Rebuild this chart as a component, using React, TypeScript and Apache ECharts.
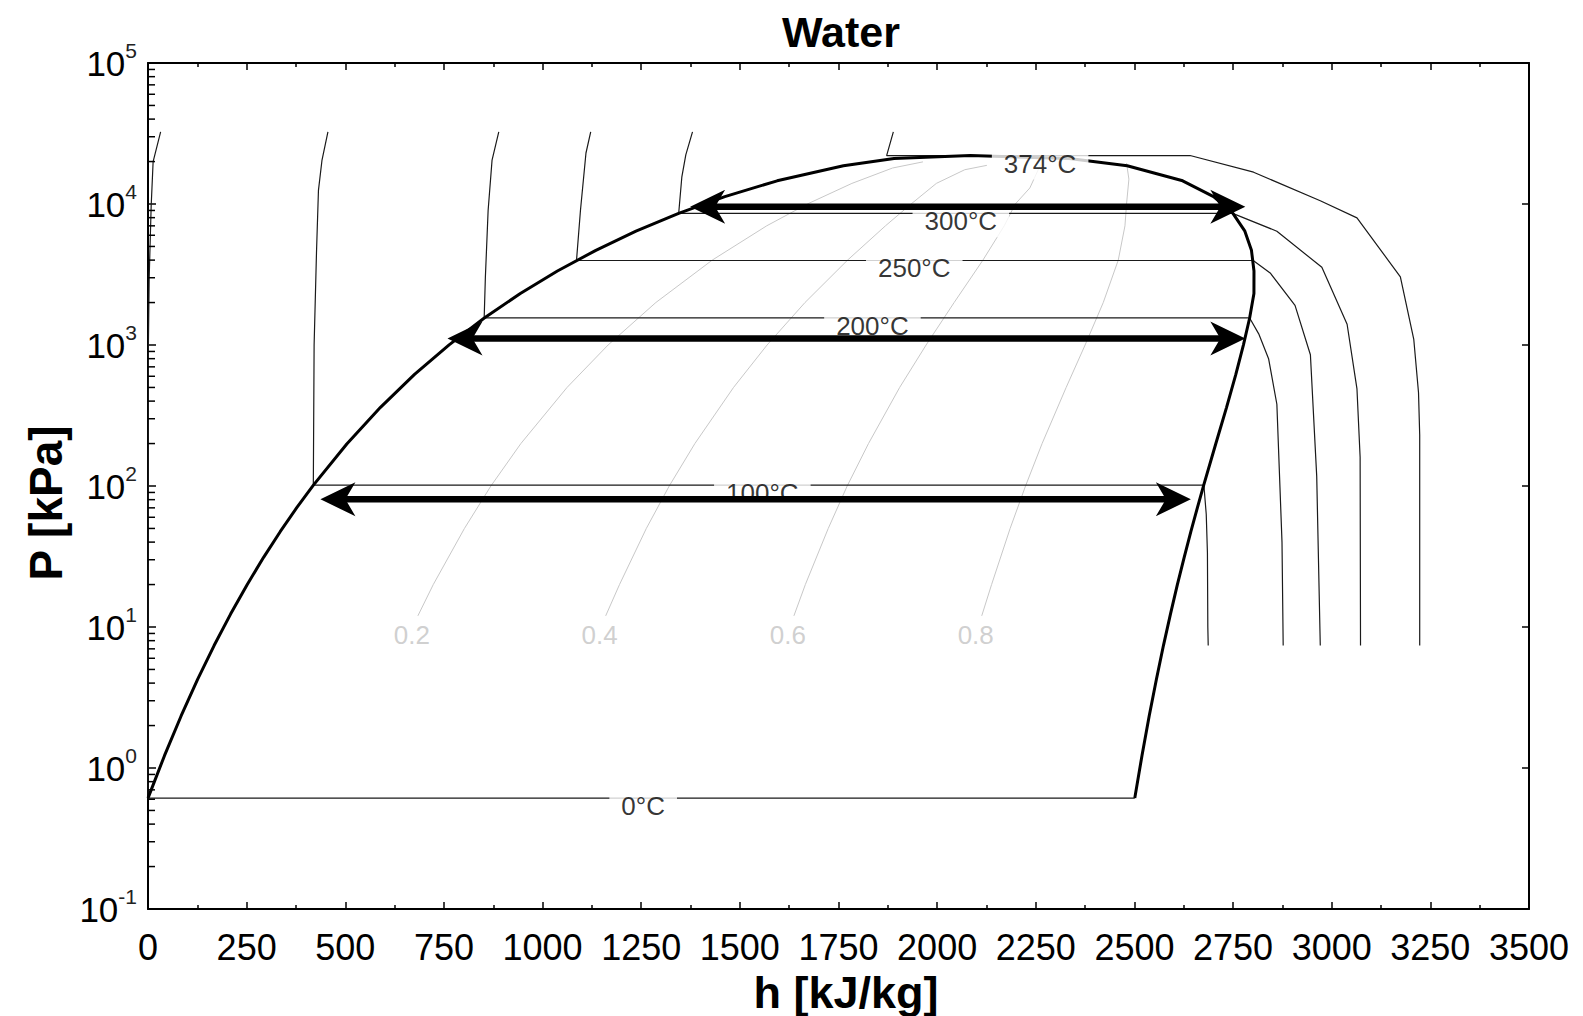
import React, { useEffect, useRef } from 'react';
import * as echarts from 'echarts';

const FONT = "'Liberation Sans', Arial, Helvetica, sans-serif";

// Axis ranges
const X_MIN = 0;
const X_MAX = 3500;
const X_INTERVAL = 250;
const Y_MIN = 0.1;
const Y_MAX = 100000;
const MINOR_MANTISSAS = [2, 3, 4, 5, 6, 7, 8, 9];
const DECADES = [0.1, 1, 10, 100, 1000, 10000];

// Saturation dome (h in kJ/kg, P in kPa)
const SAT_P = [0.6117, 1.228, 2.339, 4.247, 7.385, 12.35, 19.95, 31.2, 47.41, 70.18, 101.42, 198.67, 361.5, 618.2, 1002.8, 1554.9, 2319.6, 3346.9, 4692.3, 6416.6, 8587.9, 11284, 14601, 18666, 21044, 22064];
const SAT_LIQ_H = [0.0, 42.0, 83.9, 125.7, 167.5, 209.3, 251.2, 293.0, 335.0, 377.0, 419.2, 503.8, 589.2, 675.5, 763.1, 852.3, 943.6, 1037.6, 1135.0, 1236.7, 1344.8, 1462.0, 1594.5, 1762.5, 1890.7, 2084.3];
const SAT_VAP_H = [2500.9, 2519.2, 2537.4, 2555.6, 2573.5, 2591.3, 2608.8, 2626.1, 2643.0, 2659.6, 2675.6, 2706.0, 2733.5, 2757.0, 2776.3, 2792.0, 2802.9, 2803.0, 2796.6, 2779.9, 2749.6, 2700.6, 2622.2, 2481.6, 2334.5, 2084.3];

// Isotherms [h, P]
const ISO_0 = [[32, 32500], [13, 20000], [8, 9600], [3, 3000], [1, 1000], [0, 0.6117], [2501, 0.6117]];
const ISO_100 = [[456, 32500], [441, 20500], [432, 12500], [427, 4500], [421, 1000], [419, 101.4], [2676, 101.4], [2682, 63], [2685, 33.7], [2686, 10], [2687, 7.4]];
const ISO_200 = [[889, 32500], [872, 20500], [862, 9000], [855, 3000], [852, 1555], [2792, 1555], [2815, 1200], [2840, 800], [2861, 380], [2874, 40], [2877, 7.4]];
const ISO_250 = [[1122, 32500], [1110, 23000], [1096, 9000], [1086, 3976], [2801, 3976], [2844, 3245], [2907, 1912], [2946, 853], [2962, 117], [2971, 7.4]];
const ISO_300 = [[1380, 32500], [1363, 22300], [1353, 15600], [1345, 8588], [2749, 8588], [2861, 6410], [2975, 3556], [3039, 1403], [3064, 488], [3072, 160], [3073, 7.4]];
const ISO_374 = [[1889, 32500], [1872, 22064], [2641, 22064], [2802, 16810], [2971, 10540], [3064, 7970], [3174, 3045], [3208, 1094], [3220, 458], [3223, 231], [3223, 7.4]];
const ISOTHERMS = [ISO_0, ISO_100, ISO_200, ISO_250, ISO_300, ISO_374];

const TEMP_LABELS = ['374°C', '300°C', '250°C', '200°C', '100°C', '0°C'];
const TEMP_LABEL_H = [2261, 2060, 1942, 1836, 1557, 1255];
const TEMP_LABEL_P = [22064, 8588, 3976, 1555, 101.4, 0.6117];

// Quality lines [h, P], from the low-pressure end upwards
const Q_02 = [[684, 12], [723, 20], [802, 50], [869, 100], [945, 200], [1062, 500], [1166, 1000], [1287, 2000], [1430, 4000], [1568, 7000], [1671, 10000], [1784, 14000], [1887, 18000], [1964, 19900]];
const Q_04 = [[1160, 12], [1195, 20], [1263, 50], [1321, 100], [1386, 200], [1484, 500], [1569, 1000], [1665, 2000], [1773, 4000], [1869, 7000], [1934, 10000], [1998, 14000], [2070, 17500], [2126, 18800]];
const Q_06 = [[1637, 12], [1666, 20], [1724, 50], [1772, 100], [1826, 200], [1905, 500], [1972, 1000], [2043, 2000], [2116, 4000], [2170, 7000], [2198, 10000], [2235, 13000], [2262, 19000]];
const Q_08 = [[2113, 12], [2138, 20], [2185, 50], [2224, 100], [2266, 200], [2327, 500], [2375, 1000], [2421, 2000], [2459, 4000], [2476, 7000], [2480, 10000], [2486, 15000], [2480, 19500]];
const QUALITY_LINES = [Q_02, Q_04, Q_06, Q_08];
const QUALITY_LABELS = ['0.2', '0.4', '0.6', '0.8'];

// Double-headed process arrows: tip positions
const ARROW_P = [9570, 1114, 80.5];
const ARROW_LEFT_H = [1374, 759, 437];
const ARROW_RIGHT_H = [2781, 2781, 2643];

function buildOption() {
  const minorTicks: number[][] = [];
  DECADES.forEach((d) => MINOR_MANTISSAS.forEach((m) => minorTicks.push([0, m * d])));

  const dome = SAT_LIQ_H.map((h, i) => [h, SAT_P[i]]).concat(
    SAT_VAP_H.map((h, i) => [h, SAT_P[i]]).reverse().slice(1)
  );

  const xAxisBase = {
    type: 'value',
    min: X_MIN,
    max: X_MAX,
    interval: X_INTERVAL,
    axisLine: { show: true, onZero: false, lineStyle: { color: '#000', width: 2 } },
    axisTick: { show: true, inside: true, length: 7, lineStyle: { color: '#000', width: 1.5 } },
    minorTick: { show: true, splitNumber: 2, length: 4, lineStyle: { color: '#000', width: 1.5 } },
    splitLine: { show: false },
    minorSplitLine: { show: false },
  };

  const yAxisBase = {
    type: 'log',
    logBase: 10,
    min: Y_MIN,
    max: Y_MAX,
    axisLine: { show: true, onZero: false, lineStyle: { color: '#000', width: 2 } },
    axisTick: { show: true, inside: true, length: 8, lineStyle: { color: '#000', width: 1.5 } },
    splitLine: { show: false },
    minorTick: { show: false },
  };

  const series: any[] = [];

  QUALITY_LINES.forEach((q, i) => {
    series.push({
      type: 'line',
      name: 'x=' + QUALITY_LABELS[i],
      data: q,
      z: 1,
      silent: true,
      symbol: 'none',
      showSymbol: false,
      smooth: false,
      lineStyle: { color: '#c8c8c8', width: 1 },
      emphasis: { disabled: true },
    });
  });

  ISOTHERMS.forEach((iso, i) => {
    series.push({
      type: 'line',
      name: 'iso' + i,
      data: iso,
      z: 2,
      silent: true,
      symbol: 'none',
      showSymbol: false,
      smooth: false,
      lineStyle: { color: '#1a1a1a', width: 1.2 },
      emphasis: { disabled: true },
    });
  });

  series.push({
    type: 'line',
    name: 'dome',
    data: dome,
    z: 3,
    silent: true,
    symbol: 'none',
    showSymbol: false,
    smooth: false,
    lineStyle: { color: '#000', width: 3 },
    emphasis: { disabled: true },
  });

  series.push({
    type: 'scatter',
    name: 'tempLabels',
    z: 4,
    silent: true,
    symbol: 'circle',
    symbolSize: 1,
    itemStyle: { color: 'rgba(0,0,0,0)' },
    data: TEMP_LABELS.map((t, i) => ({ value: [TEMP_LABEL_H[i], TEMP_LABEL_P[i]], name: t })),
    label: {
      show: true,
      position: 'inside',
      offset: [0, 8],
      formatter: (p: any) => p.name,
      fontSize: 26,
      fontFamily: FONT,
      color: '#000',
      backgroundColor: '#ffffff',
      padding: [3, 12],
    },
    emphasis: { disabled: true },
  });

  series.push({
    type: 'scatter',
    name: 'qualityLabels',
    z: 4,
    silent: true,
    symbol: 'circle',
    symbolSize: 1,
    itemStyle: { color: 'rgba(0,0,0,0)' },
    data: QUALITY_LINES.map((q, i) => ({ value: q[0], name: QUALITY_LABELS[i] })),
    label: {
      show: true,
      position: 'inside',
      offset: [-6, 19],
      formatter: (p: any) => p.name,
      fontSize: 26,
      fontFamily: FONT,
      color: '#c4c4c4',
    },
    emphasis: { disabled: true },
  });

  series.push({
    type: 'custom',
    name: 'arrows',
    z: 6,
    silent: true,
    coordinateSystem: 'cartesian2d',
    encode: { x: [0, 1], y: 2 },
    data: ARROW_P.map((p, i) => [ARROW_LEFT_H[i], ARROW_RIGHT_H[i], p]),
    renderItem: (params: any, api: any) => {
      const a = api.coord([api.value(0), api.value(2)]);
      const b = api.coord([api.value(1), api.value(2)]);
      const y = a[1];
      const L = 35;
      const W = 17;
      const N = 25;
      return {
        type: 'group',
        children: [
          { type: 'line', shape: { x1: a[0] + 20, y1: y, x2: b[0] - 20, y2: y }, style: { stroke: '#000', lineWidth: 6.5 } },
          { type: 'polygon', shape: { points: [[a[0], y], [a[0] + L, y - W], [a[0] + N, y], [a[0] + L, y + W]] }, style: { fill: '#000' } },
          { type: 'polygon', shape: { points: [[b[0], y], [b[0] - L, y - W], [b[0] - N, y], [b[0] - L, y + W]] }, style: { fill: '#000' } },
        ],
      };
    },
  });

  series.push({
    type: 'custom',
    name: 'logMinorTicks',
    z: 7,
    silent: true,
    coordinateSystem: 'cartesian2d',
    encode: { x: 0, y: 1 },
    data: minorTicks,
    renderItem: (params: any, api: any) => {
      const p = api.coord([X_MIN, api.value(1)]);
      return {
        type: 'line',
        shape: { x1: p[0], y1: p[1], x2: p[0] + 7, y2: p[1] },
        style: { stroke: '#000', lineWidth: 1.5 },
      };
    },
  });

  return {
    animation: false,
    backgroundColor: '#ffffff',
    textStyle: { fontFamily: FONT },
    grid: { left: 148, right: 54, top: 63, bottom: 107, containLabel: false, outerBoundsMode: 'none' },
    xAxis: [
      {
        ...xAxisBase,
        position: 'bottom',
        axisLabel: {
          show: true,
          margin: 20,
          fontSize: 36,
          fontFamily: FONT,
          color: '#000',
          formatter: (v: number) => String(v),
        },
      },
      {
        ...xAxisBase,
        position: 'top',
        axisLabel: { show: false },
      },
    ],
    yAxis: [
      {
        ...yAxisBase,
        position: 'left',
        axisLabel: {
          show: true,
          margin: 11,
          formatter: (v: number) => `{b|10}{s|${Math.round(Math.log10(v))}}`,
          rich: {
            b: { fontSize: 35, fontFamily: FONT, color: '#000', lineHeight: 46 },
            s: { fontSize: 21, fontFamily: FONT, color: '#222', lineHeight: 21, verticalAlign: 'top' },
          },
        },
      },
      {
        ...yAxisBase,
        position: 'right',
        axisTick: { show: true, inside: true, length: 7, lineStyle: { color: '#000', width: 1.5 } },
        axisLabel: { show: false },
      },
    ],
    graphic: [
      {
        type: 'text',
        x: 841,
        y: 32,
        silent: true,
        style: {
          text: 'Water',
          fontSize: 43,
          fontWeight: 'bold',
          fontFamily: FONT,
          fill: '#000',
          align: 'center',
          verticalAlign: 'middle',
          textAlign: 'center',
          textVerticalAlign: 'middle',
        },
      },
      {
        type: 'text',
        x: 846,
        y: 992,
        silent: true,
        style: {
          text: 'h [kJ/kg]',
          fontSize: 45,
          fontWeight: 'bold',
          fontFamily: FONT,
          fill: '#000',
          align: 'center',
          verticalAlign: 'middle',
          textAlign: 'center',
          textVerticalAlign: 'middle',
        },
      },
      {
        type: 'text',
        x: 46,
        y: 503,
        rotation: Math.PI / 2,
        silent: true,
        style: {
          text: 'P [kPa]',
          fontSize: 46,
          fontWeight: 'bold',
          fontFamily: FONT,
          fill: '#000',
          align: 'center',
          verticalAlign: 'middle',
          textAlign: 'center',
          textVerticalAlign: 'middle',
        },
      },
    ],
    series,
  };
}

export default function App() {
  const ref = useRef<HTMLDivElement>(null);
  useEffect(() => {
    if (!ref.current) return;
    const chart = echarts.init(ref.current, null, { renderer: 'svg' });
    chart.setOption(buildOption() as any);
    return () => {
      chart.dispose();
    };
  }, []);
  return (
    <div
      ref={ref}
      style={{ position: 'fixed', left: 0, top: 0, width: 1583, height: 1016, background: '#fff' }}
    />
  );
}
